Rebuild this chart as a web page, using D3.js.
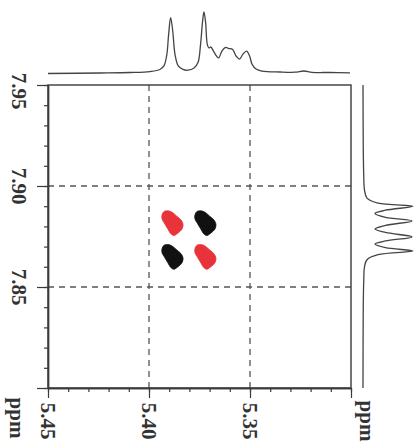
<!DOCTYPE html>
<html><head><meta charset="utf-8">
<script src="https://cdn.jsdelivr.net/npm/d3@7/dist/d3.min.js"></script>
<style>html,body{margin:0;padding:0;background:#fff;}svg{display:block;}</style>
</head><body>
<svg id="c" width="420" height="445"></svg>
<script>
// ---------- data ----------
const xMajorTicks = [5.45, 5.40, 5.35, 5.30];
const xTickLabels = ["5.45", "5.40", "5.35", ""];
const yMajorTicks = [7.95, 7.90, 7.85, 7.80];
const yTickLabels = ["7.95", "7.90", "7.85", ""];
const xGrid = [5.40, 5.35];
const yGrid = [7.90, 7.85];
const axisUnit = "ppm";

// top (F2) projection: [ppm, intensity]
const topProjPpm = [5.4500,5.4243,5.4094,5.3995,5.3946,5.3926,5.3912,5.3903,5.3893,5.3883,5.3871,5.3855,5.3832,5.3807,5.3777,5.3757,5.3745,5.3735,5.3728,5.3720,5.3711,5.3703,5.3693,5.3681,5.3656,5.3639,5.3621,5.3604,5.3587,5.3569,5.3552,5.3535,5.3517,5.3502,5.3490,5.3470,5.3441,5.3351,5.3277,5.3233,5.3193,5.3104,5.3005];
const topProjInt = [0.008,0.016,0.024,0.040,0.073,0.13,0.31,0.63,0.91,0.71,0.31,0.13,0.073,0.061,0.097,0.19,0.47,0.84,1.00,0.84,0.47,0.42,0.435,0.37,0.26,0.37,0.43,0.41,0.40,0.29,0.24,0.32,0.37,0.29,0.16,0.08,0.048,0.032,0.029,0.048,0.027,0.024,0.019];

// right (F1) projection
const rightProjPpm = [7.950,7.920,7.905,7.898,7.894,7.8915,7.8900,7.8880,7.8864,7.8845,7.8827,7.8805,7.8787,7.8770,7.8748,7.8728,7.8713,7.8695,7.8678,7.8660,7.8635,7.8600,7.8530,7.8400,7.8000];
const rightProjInt = [0.0,0.005,0.015,0.03,0.08,0.30,1.00,0.45,0.24,0.45,0.98,0.45,0.24,0.45,0.98,0.45,0.24,0.45,1.00,0.30,0.08,0.03,0.015,0.005,0.0];

// cross peaks: centre (F2 ppm, F1 ppm) and phase
const peakX = [5.3886, 5.3723, 5.3886, 5.3723];
const peakY = [7.8817, 7.8817, 7.8650, 7.8650];
const peakPhase = ["pos", "neg", "neg", "pos"];
// contour outline of one cross peak, offsets in ppm (x, y)
const shapeDx = [0.00495,0.00396,0.00149,-0.00050,-0.00248,-0.00446,-0.00545,-0.00495,-0.00297,-0.00099,0.00050,0.00223,0.00371,0.00495];
const shapeDy = [0.00396,0.00569,0.00594,0.00495,0.00322,0.00149,-0.00074,-0.00297,-0.00495,-0.00619,-0.00545,-0.00272,-0.00025,0.00198];

// ---------- layout ----------
const L = 48, R = 351, T = 85, B = 388;
const svg = d3.select("#c");
const ink = "#3a3a3a";
const x = d3.scaleLinear().domain([5.45, 5.30]).range([L, R]);
const y = d3.scaleLinear().domain([7.95, 7.80]).range([T, B]);
const topI = d3.scaleLinear().domain([0, 1]).range([74, 12]);
const rightI = d3.scaleLinear().domain([0, 1]).range([363, 413]);
const phaseColor = {pos: "#e8333b", neg: "#111111"};

// grid
svg.append("g").selectAll("line.gx").data(xGrid).join("line")
  .attr("x1", d => x(d)).attr("x2", d => x(d)).attr("y1", T).attr("y2", B)
  .attr("stroke", "#555").attr("stroke-width", 1.3).attr("stroke-dasharray", "6,5");
svg.append("g").selectAll("line.gy").data(yGrid).join("line")
  .attr("y1", d => y(d)).attr("y2", d => y(d)).attr("x1", L).attr("x2", R)
  .attr("stroke", "#555").attr("stroke-width", 1.3).attr("stroke-dasharray", "6,5");

// box
svg.append("rect").attr("x", L).attr("y", T).attr("width", R - L).attr("height", B - T)
  .attr("fill", "none").attr("stroke", ink).attr("stroke-width", 1.4);

// axes
const xMinor = d3.range(0, 16).map(i => +(5.30 + i * 0.01).toFixed(2));
const yMinor = d3.range(0, 16).map(i => +(7.80 + i * 0.01).toFixed(2));
function styleAxis(g){ g.select(".domain").attr("stroke", ink).attr("stroke-width", 1.4); g.selectAll(".tick line").attr("stroke", ink).attr("stroke-width", 1.2); }
svg.append("g").attr("transform", `translate(0,${B})`)
  .call(d3.axisBottom(x).tickValues(xMinor).tickSize(4).tickSizeOuter(0).tickFormat("")).call(styleAxis);
svg.append("g").attr("transform", `translate(0,${B})`)
  .call(d3.axisBottom(x).tickValues(xMajorTicks).tickSize(10).tickSizeOuter(0).tickFormat("")).call(styleAxis);
svg.append("g").attr("transform", `translate(${L},0)`)
  .call(d3.axisLeft(y).tickValues(yMinor).tickSize(4).tickSizeOuter(0).tickFormat("")).call(styleAxis);
svg.append("g").attr("transform", `translate(${L},0)`)
  .call(d3.axisLeft(y).tickValues(yMajorTicks).tickSize(11).tickSizeOuter(0).tickFormat("")).call(styleAxis);

// tick labels (rotated, as in the figure)
const font = "'Liberation Serif','Times New Roman',serif";
svg.append("g").selectAll("text").data(xMajorTicks.map((v,i)=>({v, t:xTickLabels[i]})).filter(d=>d.t)).join("text")
  .attr("transform", d => `translate(${x(d.v)},421) rotate(90)`)
  .attr("text-anchor", "middle").attr("dominant-baseline", "central")
  .attr("font-family", font).attr("font-weight", "bold").attr("font-size", 21).attr("fill", "#333")
  .text(d => d.t);
svg.append("g").selectAll("text").data(yMajorTicks.map((v,i)=>({v, t:yTickLabels[i]})).filter(d=>d.t)).join("text")
  .attr("transform", (d,i) => `translate(19,${y(d.v) + (i===0?6:0)}) rotate(90)`)
  .attr("text-anchor", "middle").attr("dominant-baseline", "central")
  .attr("font-family", font).attr("font-weight", "bold").attr("font-size", 21).attr("fill", "#333")
  .text(d => d.t);
// unit labels
svg.append("text").attr("transform", "translate(17,418) rotate(90)")
  .attr("text-anchor", "middle").attr("dominant-baseline", "central")
  .attr("font-family", font).attr("font-weight", "bold").attr("font-size", 21).attr("fill", "#333").text(axisUnit);
svg.append("text").attr("transform", "translate(367,421) rotate(90)")
  .attr("text-anchor", "middle").attr("dominant-baseline", "central")
  .attr("font-family", font).attr("font-weight", "bold").attr("font-size", 21).attr("fill", "#333").text(axisUnit);

// projections
const topLine = d3.line().x(d => x(d[0])).y(d => topI(d[1])).curve(d3.curveCatmullRom.alpha(0.5));
svg.append("path").datum(d3.zip(topProjPpm, topProjInt)).attr("d", topLine)
  .attr("fill", "none").attr("stroke", "#444").attr("stroke-width", 1.3);
const rightLine = d3.line().x(d => rightI(d[1])).y(d => y(d[0])).curve(d3.curveCatmullRom.alpha(0.5));
svg.append("path").datum(d3.zip(rightProjPpm, rightProjInt)).attr("d", rightLine)
  .attr("fill", "none").attr("stroke", "#444").attr("stroke-width", 1.3);

// cross peaks
const shape = d3.zip(shapeDx, shapeDy);
const blob = d3.line().curve(d3.curveCatmullRomClosed.alpha(0.5));
svg.append("g").selectAll("path").data(peakX.map((px,i)=>({px, py:peakY[i], ph:peakPhase[i]}))).join("path")
  .attr("d", d => blob(shape.map(s => [x(d.px + s[0]), y(d.py + s[1])])))
  .attr("fill", d => phaseColor[d.ph]).attr("stroke", d => phaseColor[d.ph]).attr("stroke-width", 0.8);
</script>
</body></html>
